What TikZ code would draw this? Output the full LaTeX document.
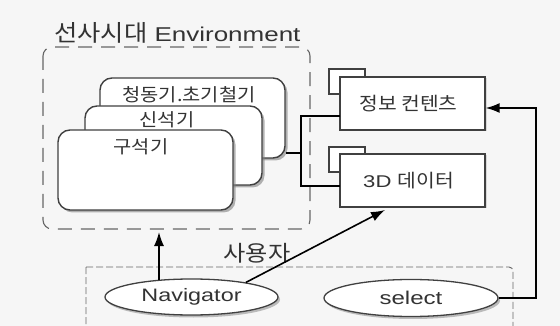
\documentclass[tikz,border=0pt]{standalone}
\usepackage{fontspec}
\setmainfont{Liberation Sans}[FakeStretch=1.3]
\newfontfamily\kr{Noto Sans CJK KR}[FakeStretch=1.1]
\usetikzlibrary{arrows.meta,shadows,shapes.geometric}
\definecolor{bg}{HTML}{F6F6F6}
\definecolor{edge}{HTML}{404040}
\tikzset{
  era/.style={draw=edge, line width=1.4pt, fill=white, rounded corners=12pt,
    minimum width=#1, drop shadow={opacity=0.6, shadow xshift=2.5pt, shadow yshift=-2.5pt}},
  era/.default=180pt,
  datbox/.style={draw=edge, line width=1.3pt, fill=white, minimum width=145pt, minimum height=53pt,
    drop shadow={opacity=0.25, shadow xshift=1.5pt, shadow yshift=-1.5pt}},
  tabbox/.style={draw=edge, line width=1.1pt, fill=white, minimum width=36pt, minimum height=25pt},
  actor/.style={ellipse, draw=edge, line width=1.3pt, fill=white, inner sep=0pt, text=black!80,
    drop shadow={opacity=0.5, shadow xshift=2pt, shadow yshift=-2.5pt}},
  link/.style={line width=1.6pt, black},
  arr/.style={line width=1.6pt, black, -{Latex[length=14pt,width=10pt]}},
  envframe/.style={draw=edge!80, line width=1.1pt, dash pattern=on 14pt off 9pt, rounded corners=9pt},
  userframe/.style={draw=edge!80, line width=0.9pt, dash pattern=on 7pt off 3pt, rounded corners=4pt},
  lbl/.style={inner sep=0pt, text=black!80},
}
\begin{document}
\begin{tikzpicture}[x=1pt, y=-1pt]
  \useasboundingbox[fill=bg] (0,0) rectangle (560,326);

  % prehistoric environment frame and title
  \draw[envframe] (43,47) rectangle (310,229);
  \node[lbl, anchor=west, font=\fontsize{20}{22}\selectfont] (envtitle) at (54,33)
    {{\kr\fontsize{23}{25}\selectfont 선사시대} Environment};

  % stacked era cards
  \node[era=185pt, minimum height=80pt] (bronze) at (192.5,118) {};
  \node[era=177pt, minimum height=79pt] (neo) at (173.5,145.5) {};
  \node[era=175pt, minimum height=80pt] (paleo) at (145.5,170) {};
  \node[lbl, font=\kr\fontsize{18}{20}\selectfont] (bronzet) at (189,95) {청동기.초기철기};
  \node[lbl, font=\kr\fontsize{18}{20}\selectfont] (neot) at (167,120) {신석기};
  \node[lbl, font=\kr\fontsize{18}{20}\selectfont] (paleot) at (141,147) {구석기};

  % data components
  \node[tabbox] (infotab) at (347,81.5) {};
  \node[datbox, text=black!80, font=\kr\fontsize{18.5}{20}\selectfont] (info) at (412.5,103.5)
    {\hspace*{-8pt}정보 컨텐츠};
  \node[tabbox] (datatab) at (347,159.5) {};
  \node[datbox, text=black!80, font=\fontsize{17}{20}\selectfont] (data) at (412.5,180.5)
    {\hspace*{-8pt}3D {\kr\fontsize{18.5}{20}\selectfont 데이터}};

  % links from the era cards to the data components
  \coordinate (bus) at (301,153);
  \coordinate (infoin) at (340,116);
  \coordinate (datain) at (340,186);
  \draw[link] (bronze.east |- bus) -- (bus);
  \draw[link] (infoin) -- (infoin -| bus) -- (datain -| bus) -- (datain);

  % user frame and actors
  \draw[userframe] (86,267) -- (86,330) (86,267) -- (513,267) -- (513,330);
  \node[lbl, font=\kr\fontsize{22}{24}\selectfont] (usert) at (257,253) {사용자};
  \node[actor, minimum width=173pt, minimum height=36pt, font=\fontsize{18}{20}\selectfont] (nav)
    at (191.5,297) {Navigator};
  \node[actor, minimum width=174pt, minimum height=37pt, font=\fontsize{18.5}{20}\selectfont] (sel)
    at (411,298) {select};

  % interactions
  \coordinate (navup) at (159,280);
  \coordinate (envin) at (159,232);
  \coordinate (datatip) at (385,210);
  \coordinate (turn) at (536,298);
  \draw[arr] (navup) -- (envin);
  \draw[arr] (nav.15) -- (datatip);
  \draw[arr] (sel.east) -- (turn) |- (info.east |- 0,108);
\end{tikzpicture}
\end{document}
